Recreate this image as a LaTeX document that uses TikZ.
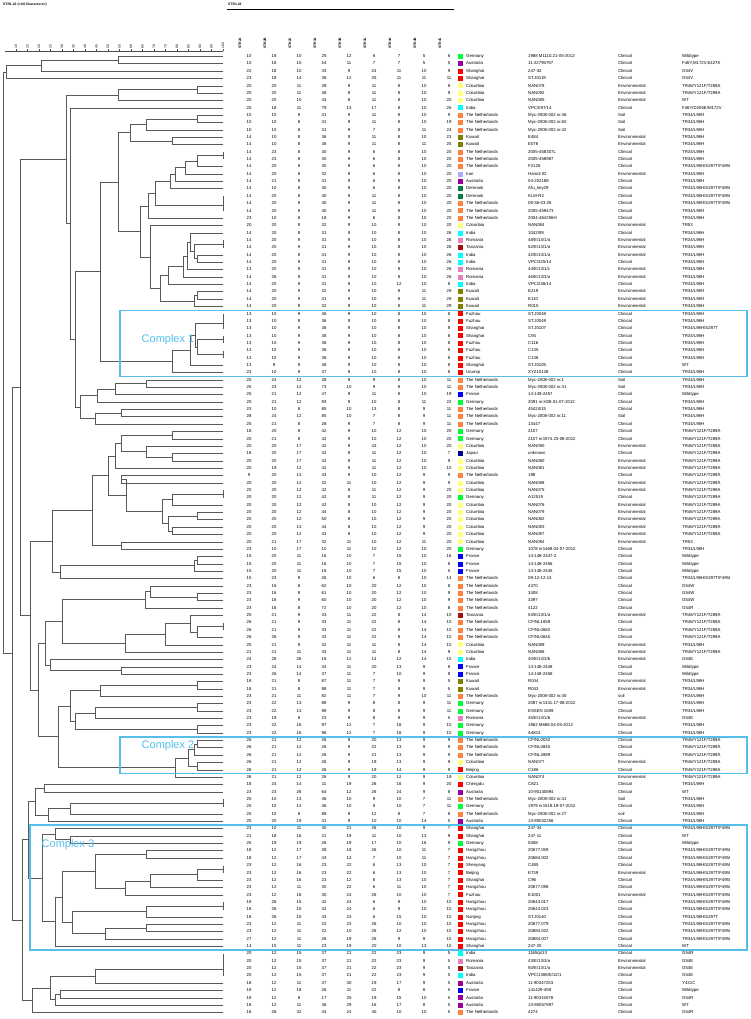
\documentclass[tikz,border=0pt]{standalone}
\usepackage{fontspec}
\setmainfont{Liberation Sans}
\usetikzlibrary{calc}
\definecolor{cGer}{HTML}{00FF33}
\definecolor{cAus}{HTML}{990099}
\definecolor{cChn}{HTML}{FF0000}
\definecolor{cCol}{HTML}{FFFF80}
\definecolor{cInd}{HTML}{00FFFF}
\definecolor{cNL}{HTML}{FF8040}
\definecolor{cKuw}{HTML}{808000}
\definecolor{cIra}{HTML}{AAAAFF}
\definecolor{cDen}{HTML}{008040}
\definecolor{cRom}{HTML}{E880C0}
\definecolor{cTan}{HTML}{A01010}
\definecolor{cFra}{HTML}{0000FF}
\definecolor{cJap}{HTML}{000090}
\definecolor{cBox}{HTML}{55BFEA}
\newcommand\Row[7]{%
  \pgfmathsetmacro\yy{56.5+(#1-1)*7.355}
  \coordinate (L#1) at (223,\yy);
  \foreach \v [count=\k] in {#2} {
    \pgfmathsetmacro\xx{249+(\k-1)*25}
    \node[val] (rv#1-\k) at (\xx,\yy) {\v};
  }
  \node[sq, fill=c#3] (rs#1) at (460.5,\yy) {};
  \node[txt] (rc#1) at (466,\yy) {#4};
  \node[txt] (ri#1) at (528,\yy) {#5};
  \node[txt] (rt#1) at (618,\yy) {#6};
  \node[txt] (rm#1) at (682,\yy) {#7};
}
\newcommand\Jn[4]{%
  \coordinate (jx) at (#4,0);
  \draw[dend] (#2) -- (#2 -| jx) -- (#3 -| jx) -- (#3);
  \coordinate (#1) at ($(#2 -| jx)!.5!(#3 -| jx)$);
}
\begin{document}
\begin{tikzpicture}[x=1pt,y=-1pt,
  val/.style={inner sep=0pt, anchor=center, text height=3.1pt, text depth=0.9pt, font=\fontsize{4.3}{5}\selectfont},
  txt/.style={inner sep=0pt, anchor=west, text height=3.1pt, text depth=0.9pt, font=\fontsize{4.3}{5}\selectfont},
  sq/.style={inner sep=0pt, minimum width=5pt, minimum height=5pt, draw=none},
  hdr/.style={inner sep=0pt, anchor=west, rotate=90, font=\fontsize{3.4}{4}\selectfont\bfseries},
  ttl/.style={inner sep=0pt, anchor=west, font=\fontsize{3.4}{4}\selectfont\bfseries},
  axlab/.style={inner sep=0pt, anchor=west, rotate=90, font=\fontsize{3.4}{4}\selectfont},
  dend/.style={draw=black!65, line width=0.8pt},
  cxbox/.style={draw=cBox, line width=1.3pt},
  cxlab/.style={inner sep=0pt, text=cBox, font=\fontsize{11}{13}\selectfont}]
\useasboundingbox (0,0) rectangle (751,1019);
\fill[white] (0,0) rectangle (751,1019);
% titles
\node[ttl] (title) at (3,4.5) {STR1.22 (<All Characters>)};
\node[ttl] (exp) at (228,4.5) {STR1.22};
\coordinate (barA) at (227,9.5);
\coordinate (barB) at (454,9.5);
\draw[line width=1.5pt] (barA) -- (barB);
% column headers
\foreach \h [count=\k] in {STR2A,STR2B,STR2C,STR3A,STR3B,STR3C,STR4A,STR4B,STR4C} {
  \pgfmathsetmacro\xx{249+(\k-1)*25-9}
  \node[hdr] (h\k) at (\xx,49) {\h};
}
% axis
\coordinate (axA) at (5,51.5);
\coordinate (axB) at (223,51.5);
\draw[black!70, line width=0.5pt] (axA) -- (axB);
\foreach \s in {10,15,...,100} {
  \pgfmathsetmacro\ax{223-(100-\s)*2.3}
  \draw[black!70, line width=0.4pt] (\ax,49.3) -- (\ax,51.5);
  \node[axlab] (ax\s) at (\ax,48.3) {\s};
}
% rows
\Row{1}{10,18,10,25,12,6,7,5,6}{Ger}{Germany}{1988 M1110.21-05-2012}{Clinical}{Wildtype}
\Row{2}{10,18,10,24,11,7,7,5,5}{Aus}{Australia}{11-22795797}{Clinical}{F46Y,M172V,E427K}
\Row{3}{22,18,10,33,9,24,11,10,9}{Chn}{Shanghai}{247-32}{Clinical}{G54V}
\Row{4}{23,18,14,36,12,25,11,11,11}{Chn}{Shanghai}{ST.J0119}{Clinical}{G54V}
\Row{5}{20,20,11,39,9,11,8,10,9}{Col}{Columbia}{NAN078}{Environmental}{TR46/Y121F/T289A}
\Row{6}{20,20,11,38,8,11,8,10,9}{Col}{Columbia}{NAN092}{Environmental}{TR46/Y121F/T289A}
\Row{7}{20,20,10,43,8,11,8,10,20}{Col}{Columbia}{NAN085}{Environmental}{WT}
\Row{8}{25,18,11,79,13,17,8,10,26}{Ind}{India}{VPC/097/14}{Clinical}{F46Y/D255E/M172V}
\Row{9}{10,10,8,31,9,11,8,10,9}{NL}{The Netherlands}{Myc-2008-002 nr.46}{Soil}{TR34/L98H}
\Row{10}{10,10,8,31,9,11,8,10,19}{NL}{The Netherlands}{Myc-2008-002 nr.60}{Soil}{TR34/L98H}
\Row{11}{10,10,8,31,9,7,8,11,24}{NL}{The Netherlands}{Myc-2008-002 nr.42}{Soil}{TR34/L98H}
\Row{12}{14,10,8,36,9,11,8,10,23}{Kuw}{Kuwait}{E484}{Environmental}{TR34/L98H}
\Row{13}{14,10,8,36,9,11,8,11,25}{Kuw}{Kuwait}{E076}{Environmental}{TR34/L98H}
\Row{14}{14,23,8,30,9,6,8,10,20}{NL}{The Netherlands}{2005-458307L}{Clinical}{TR34/L98H}
\Row{15}{14,23,8,30,9,6,8,10,20}{NL}{The Netherlands}{2005-458987}{Clinical}{TR34/L98H}
\Row{16}{14,20,8,30,9,6,8,10,20}{NL}{The Netherlands}{F2126}{Clinical}{TR34/L98H/S297T/F495I}
\Row{17}{14,20,8,32,9,6,8,10,20}{Ira}{Iran}{Hamol 02}{Environmental}{TR34/L98H}
\Row{18}{14,21,8,31,9,6,8,10,20}{Aus}{Australia}{04-202188}{Clinical}{TR34/L98H}
\Row{19}{14,10,8,30,9,6,8,10,20}{Den}{Denmark}{Afu\_key29}{Clinical}{TR34/L98H/S297T/F495I}
\Row{20}{14,20,8,40,9,11,8,10,20}{Den}{Denmark}{KLM-R2}{Clinical}{TR34/L98H/S297T/F495I}
\Row{21}{14,20,8,40,9,11,8,10,20}{NL}{The Netherlands}{08-36-03-25}{Clinical}{TR34/L98H/S297T/F495I}
\Row{22}{14,20,8,40,9,11,8,10,20}{NL}{The Netherlands}{2005-459473}{Clinical}{TR34/L98H}
\Row{23}{23,10,8,18,9,6,8,10,20}{NL}{The Netherlands}{2004-464256H}{Clinical}{TR34/L98H}
\Row{24}{20,20,8,32,9,10,8,10,20}{Col}{Columbia}{NAN084}{Environmental}{TR53}
\Row{25}{14,20,8,31,9,10,8,10,26}{Ind}{India}{1042/09}{Clinical}{TR34/L98H}
\Row{26}{14,20,9,31,9,10,8,10,26}{Rom}{Romania}{48/E/13/1/a}{Environmental}{TR34/L98H}
\Row{27}{14,20,9,31,9,10,8,10,26}{Tan}{Tanzania}{52/E/13/1/a}{Environmental}{TR34/L98H}
\Row{28}{14,20,8,31,9,10,8,10,26}{Ind}{India}{42/E/13/1/a}{Environmental}{TR34/L98H}
\Row{29}{14,20,9,31,9,10,8,10,26}{Ind}{India}{VPC/325/14}{Clinical}{TR34/L98H}
\Row{30}{13,20,9,31,9,10,8,10,26}{Rom}{Romania}{44/E/13/1/c}{Environmental}{TR34/L98H}
\Row{31}{14,26,9,31,9,10,8,10,26}{Rom}{Romania}{46/E/13/3/a}{Environmental}{TR34/L98H}
\Row{32}{14,20,9,31,9,10,12,10,8}{Ind}{India}{VPC/236/14}{Clinical}{TR34/L98H}
\Row{33}{14,20,9,32,9,10,8,11,29}{Kuw}{Kuwait}{E219}{Environmental}{TR34/L98H}
\Row{34}{14,20,9,31,9,10,8,11,29}{Kuw}{Kuwait}{E110}{Environmental}{TR34/L98H}
\Row{35}{14,20,9,32,9,10,8,11,29}{Kuw}{Kuwait}{R015}{Environmental}{TR34/L98H}
\Row{36}{13,10,9,36,9,10,8,10,8}{Chn}{Fuzhou}{ST.J0048}{Clinical}{TR34/L98H}
\Row{37}{13,10,9,36,9,10,8,10,8}{Chn}{Fuzhou}{ST.J0049}{Clinical}{TR34/L98H}
\Row{38}{13,10,9,36,9,10,8,10,8}{Chn}{Shanghai}{ST.J0107}{Clinical}{TR34/L98H/S297T}
\Row{39}{13,10,9,38,9,10,8,10,8}{Chn}{Shanghai}{C94}{Clinical}{TR34/L98H}
\Row{40}{13,10,9,38,9,10,8,10,8}{Chn}{Fuzhou}{C116}{Clinical}{TR34/L98H}
\Row{41}{13,10,9,36,9,10,8,10,8}{Chn}{Fuzhou}{C135}{Clinical}{TR34/L98H}
\Row{42}{13,10,9,36,9,10,8,10,8}{Chn}{Fuzhou}{C136}{Clinical}{TR34/L98H}
\Row{43}{13,9,9,38,9,10,8,10,8}{Chn}{Shanghai}{ST.J0105}{Clinical}{WT}
\Row{44}{23,10,9,37,9,10,8,10,8}{Chn}{Urumqi}{XYZ10138}{Clinical}{TR34/L98H}
\Row{45}{25,24,12,28,9,9,8,10,11}{NL}{The Netherlands}{Myc-2008-002 nr.1}{Soil}{TR34/L98H}
\Row{46}{25,23,12,73,10,9,8,10,11}{NL}{The Netherlands}{Myc-2008-002 nr.31}{Soil}{TR34/L98H}
\Row{47}{25,21,12,47,9,11,8,10,19}{Fra}{France}{14-149-2457}{Clinical}{Wildtype}
\Row{48}{20,21,12,93,9,10,8,11,22}{Ger}{Germany}{2091 nr.H28.01-07-2012}{Clinical}{TR34/L98H}
\Row{49}{23,10,8,85,10,13,8,9,11}{NL}{The Netherlands}{45424/15}{Clinical}{TR34/L98H}
\Row{50}{28,24,12,85,10,7,8,9,11}{NL}{The Netherlands}{Myc-2008-002 nr.11}{Soil}{TR34/L98H}
\Row{51}{25,21,8,28,9,7,8,9,11}{NL}{The Netherlands}{13447}{Clinical}{TR34/L98H}
\Row{52}{18,20,8,42,9,10,12,10,20}{Ger}{Germany}{2107}{Clinical}{TR46/Y121F/T289A}
\Row{53}{20,21,8,42,9,10,12,10,20}{Ger}{Germany}{2107 nr1974.23-08-2012}{Clinical}{TR46/Y121F/T289A}
\Row{54}{20,20,17,42,9,43,12,10,20}{Col}{Columbia}{NAN090}{Environmental}{TR46/Y121F/T289A}
\Row{55}{18,20,17,42,8,11,12,10,7}{Jap}{Japan}{unknown}{Clinical}{TR46/Y121F/T289A}
\Row{56}{20,20,17,42,8,11,12,10,9}{Col}{Columbia}{NAN080}{Environmental}{TR46/Y121F/T289A}
\Row{57}{20,19,12,42,9,11,12,10,10}{Col}{Columbia}{NAN081}{Environmental}{TR46/Y121F/T289A}
\Row{58}{9,20,13,43,9,10,12,9,9}{NL}{The Netherlands}{198}{Clinical}{TR46/Y121F/T289A}
\Row{59}{20,20,12,32,11,10,12,9,9}{Col}{Columbia}{NAN088}{Environmental}{TR46/Y121F/T289A}
\Row{60}{20,20,12,42,8,11,12,9,20}{Col}{Columbia}{NAN075}{Environmental}{TR46/Y121F/T289A}
\Row{61}{20,20,12,42,8,11,12,9,20}{Ger}{Germany}{A12519}{Clinical}{TR46/Y121F/T289A}
\Row{62}{20,20,12,42,9,10,12,9,20}{Col}{Columbia}{NAN076}{Environmental}{TR46/Y121F/T289A}
\Row{63}{20,20,12,44,8,10,12,9,20}{Col}{Columbia}{NAN079}{Environmental}{TR46/Y121F/T289A}
\Row{64}{20,20,12,50,8,10,12,9,20}{Col}{Columbia}{NAN082}{Environmental}{TR46/Y121F/T289A}
\Row{65}{20,20,13,44,8,10,12,9,20}{Col}{Columbia}{NAN083}{Environmental}{TR46/Y121F/T289A}
\Row{66}{20,20,12,43,8,10,12,9,20}{Col}{Columbia}{NAN087}{Environmental}{TR46/Y121F/T289A}
\Row{67}{20,21,17,32,11,10,12,11,20}{Col}{Columbia}{NAN094}{Environmental}{TR53}
\Row{68}{23,10,17,10,11,10,12,10,20}{Ger}{Germany}{1078 nr1469.04-07-2012}{Clinical}{TR34/L98H}
\Row{69}{15,20,11,16,10,7,15,10,16}{Fra}{France}{14-148-2447-2}{Clinical}{Wildtype}
\Row{70}{15,20,11,16,10,7,15,10,8}{Fra}{France}{14-148-2456}{Clinical}{Wildtype}
\Row{71}{15,20,11,16,10,7,15,10,5}{Fra}{France}{14-148-2445}{Clinical}{Wildtype}
\Row{72}{15,23,9,26,10,6,8,10,14}{NL}{The Netherlands}{09-12-12-13}{Clinical}{TR34/L98H/S297T/F495I}
\Row{73}{23,16,8,62,10,20,12,10,8}{NL}{The Netherlands}{4370}{Clinical}{G54W}
\Row{74}{23,16,9,61,10,20,12,10,9}{NL}{The Netherlands}{3408}{Clinical}{G54W}
\Row{75}{23,16,9,60,10,20,12,10,9}{NL}{The Netherlands}{3397}{Clinical}{G54W}
\Row{76}{23,16,8,72,10,20,12,10,8}{NL}{The Netherlands}{4122}{Clinical}{G54R}
\Row{77}{25,21,9,33,11,22,8,14,10}{Tan}{Tanzania}{53/E/13/1/a}{Environmental}{TR46/Y121F/T289A}
\Row{78}{26,21,9,33,11,22,8,14,10}{NL}{The Netherlands}{CF/NL1659}{Clinical}{TR46/Y121F/T289A}
\Row{79}{26,21,9,33,11,22,8,14,10}{NL}{The Netherlands}{CF/NL0682}{Clinical}{TR46/Y121F/T289A}
\Row{80}{26,26,9,33,11,22,8,14,10}{NL}{The Netherlands}{CF/NL0645}{Clinical}{TR46/Y121F/T289A}
\Row{81}{25,21,9,32,11,11,8,14,10}{Col}{Columbia}{NAN089}{Environmental}{TR34/L98H}
\Row{82}{21,21,11,33,11,11,8,14,9}{Col}{Columbia}{NAN086}{Environmental}{TR46/Y121F/T289A}
\Row{83}{24,28,26,16,12,14,12,14,10}{Ind}{India}{40/E/13/3/b}{Environmental}{G54E}
\Row{84}{23,24,14,34,11,20,13,9,8}{Fra}{France}{14-148-2448}{Clinical}{Wildtype}
\Row{85}{23,26,14,37,11,7,10,9,8}{Fra}{France}{14-148-2458}{Clinical}{Wildtype}
\Row{86}{18,21,8,87,11,7,9,9,5}{Kuw}{Kuwait}{R044}{Environmental}{TR34/L98H}
\Row{87}{18,21,8,88,11,7,9,9,5}{Kuw}{Kuwait}{R043}{Environmental}{TR34/L98H}
\Row{88}{23,21,11,82,11,7,9,10,11}{NL}{The Netherlands}{Myc-2008-002 nr.45}{soil}{TR34/L98H}
\Row{89}{23,22,13,88,9,8,8,9,11}{Ger}{Germany}{2087 nr1341.17-08-2012}{Clinical}{TR34/L98H}
\Row{90}{23,22,13,98,9,8,8,9,11}{Ger}{Germany}{ESSEN 1609}{Clinical}{TR34/L98H}
\Row{91}{23,19,8,23,9,8,9,9,5}{Rom}{Romania}{45/E/13/1/b}{Environmental}{G54E}
\Row{92}{23,22,16,97,12,7,16,9,10}{Ger}{Germany}{1962 M688.04-05-2012}{Clinical}{TR34/L98H}
\Row{93}{23,22,16,96,12,7,16,9,10}{Ger}{Germany}{A4813}{Clinical}{TR34/L98H}
\Row{94}{26,21,12,26,9,20,13,9,9}{NL}{The Netherlands}{CF/NL0032}{Clinical}{TR46/Y121F/T289A}
\Row{95}{26,21,12,26,9,22,13,9,9}{NL}{The Netherlands}{CF/NL0840}{Clinical}{TR46/Y121F/T289A}
\Row{96}{26,21,12,26,9,21,13,9,9}{NL}{The Netherlands}{CF/NL2889}{Clinical}{TR46/Y121F/T289A}
\Row{97}{26,21,12,26,9,19,13,9,9}{Col}{Columbia}{NAN077}{Environmental}{TR46/Y121F/T289A}
\Row{98}{26,21,12,26,9,19,14,9,9}{Chn}{Beijing}{C186}{Clinical}{TR46/Y121F/T289A}
\Row{99}{26,21,12,26,9,20,12,9,19}{Col}{Columbia}{NAN074}{Environmental}{TR46/Y121F/T289A}
\Row{100}{18,24,14,11,19,26,16,9,20}{Chn}{Chengdu}{C821}{Clinical}{TR34/L98H}
\Row{101}{23,23,26,64,12,26,24,9,8}{Aus}{Australia}{10-90130894}{Clinical}{WT}
\Row{102}{25,10,13,46,10,9,10,7,11}{NL}{The Netherlands}{Myc-2008-002 nr.41}{Soil}{TR34/L98H}
\Row{103}{25,10,13,46,10,9,10,7,11}{Ger}{Germany}{1979 nr1519.19-07-2012}{Clinical}{TR34/L98H}
\Row{104}{25,10,8,88,9,12,8,7,8}{NL}{The Netherlands}{Myc-2008-002 nr.27}{soil}{TR34/L98H}
\Row{105}{25,20,19,31,9,10,10,14,5}{Aus}{Australia}{13-90032256}{Clinical}{TR34/L98H}
\Row{106}{23,10,11,30,21,26,10,9,7}{Chn}{Shanghai}{247-34}{Clinical}{TR34/L98H/S297T/F495I}
\Row{107}{21,18,16,21,19,11,10,13,9}{Chn}{Shanghai}{247-11}{Clinical}{WT}
\Row{108}{25,19,19,26,19,17,10,16,9}{Ger}{Germany}{5308}{Clinical}{Wildtype}
\Row{109}{18,12,17,38,18,26,10,11,7}{Chn}{Hangzhou}{20677.059}{Clinical}{TR34/L98H/S297T/F495I}
\Row{110}{18,12,17,43,13,7,10,11,7}{Chn}{Hangzhou}{20684.002}{Clinical}{TR34/L98H/S297T/F495I}
\Row{111}{23,12,16,23,22,6,13,10,7}{Chn}{Shenyang}{C485}{Clinical}{TR34/L98H/S297T/F495I}
\Row{112}{23,12,16,23,22,6,13,10,7}{Chn}{Beijing}{E739}{Environmental}{TR34/L98H/S297T/F495I}
\Row{113}{23,12,16,23,12,6,13,10,7}{Chn}{Shanghai}{C96}{Clinical}{TR34/L98H/S297T/F495I}
\Row{114}{23,12,11,30,22,6,11,10,7}{Chn}{Hangzhou}{20677.098}{Clinical}{TR34/L98H/S297T/F495I}
\Row{115}{23,12,16,30,24,26,10,10,7}{Chn}{Fuzhou}{E1001}{Environmental}{TR34/L98H/S297T/F495I}
\Row{116}{18,26,15,42,24,6,9,10,10}{Chn}{Hangzhou}{20643.017}{Clinical}{TR34/L98H/S297T/F495I}
\Row{117}{18,26,15,42,24,6,9,10,10}{Chn}{Hangzhou}{20643.023}{Clinical}{TR34/L98H/S297T/F495I}
\Row{118}{18,26,15,43,23,6,15,10,10}{Chn}{Nanjing}{ST.J0140}{Clinical}{TR34/L98H/S297T}
\Row{119}{23,12,11,23,23,26,10,10,10}{Chn}{Hangzhou}{20677.079}{Clinical}{TR34/L98H/S297T/F495I}
\Row{120}{23,12,11,22,10,26,12,10,10}{Chn}{Hangzhou}{20684.022}{Clinical}{TR34/L98H/S297T/F495I}
\Row{121}{27,12,11,26,19,26,9,9,10}{Chn}{Hangzhou}{20684.007}{Clinical}{TR34/L98H/S297T/F495I}
\Row{122}{14,15,11,23,19,20,10,13,10}{Chn}{Shanghai}{247-20}{Clinical}{WT}
\Row{123}{20,12,15,37,21,22,23,9,5}{Ind}{India}{1165/p/13}{Clinical}{G54R}
\Row{124}{20,12,15,37,21,22,23,9,5}{Rom}{Romania}{43/E/13/3/a}{Environmental}{G54E}
\Row{125}{20,12,15,37,21,22,23,9,5}{Tan}{Tanzania}{50/E/13/1/a}{Environmental}{G54E}
\Row{126}{20,12,15,37,21,22,23,9,5}{Ind}{India}{VPC/1388/E/12/1}{Clinical}{G54E}
\Row{127}{18,12,11,37,30,19,17,9,5}{Aus}{Australia}{11-90347253}{Clinical}{Y431C}
\Row{128}{18,12,18,26,11,22,8,8,5}{Fra}{France}{141429-459}{Clinical}{Wildtype}
\Row{129}{18,12,8,17,25,19,15,10,5}{Aus}{Australia}{11-90315078}{Clinical}{G54R}
\Row{130}{18,12,11,36,29,16,17,8,5}{Aus}{Australia}{13-90057897}{Clinical}{WT}
\Row{131}{16,26,32,34,24,40,10,10,5}{NL}{The Netherlands}{4274}{Clinical}{G54R}
% dendrogram
\Jn{Ja1}{L1}{L2}{118}
\Jn{Ja2}{Ja1}{L3}{41}
\Jn{Ja3}{Ja2}{L4}{6}
\Jn{Jb1}{L5}{L6}{197}
\Jn{Jb2}{Jb1}{L7}{118}
\Jn{Jc1}{L9}{L10}{197}
\Jn{Jc2}{Jc1}{L11}{146}
\Jn{Jc3}{L12}{L13}{172}
\Jn{Jc4}{Jc2}{Jc3}{130}
\Jn{Jd1}{L14}{L15}{223}
\Jn{Jd2}{Jd1}{L16}{197}
\Jn{Jd3}{Jd2}{L17}{185}
\Jn{Jd4}{Jd3}{L18}{175}
\Jn{Jd5}{Jd4}{L19}{170}
\Jn{Jd6}{L20}{L21}{223}
\Jn{Jd7}{Jd6}{L22}{223}
\Jn{Jd8}{Jd5}{Jd7}{155}
\Jn{Jd9}{Jd8}{L23}{148}
\Jn{Je1}{L26}{L27}{223}
\Jn{Je2}{L28}{L29}{197}
\Jn{Je3}{Je1}{Je2}{194}
\Jn{Je4}{L25}{Je3}{190}
\Jn{Je5}{Je4}{L30}{187}
\Jn{Je6}{Je5}{L31}{183}
\Jn{Je7}{Je6}{L32}{168}
\Jn{Je8}{L33}{L34}{197}
\Jn{Je9}{Je8}{L35}{194}
\Jn{Je10}{Je7}{Je9}{160}
\Jn{Je11}{L24}{Je10}{150}
\Jn{Jf1}{Jd9}{Je11}{140}
\Jn{Jf2}{Jc4}{Jf1}{118}
\Jn{Jg1}{L36}{L37}{223}
\Jn{Jg2}{Jg1}{L38}{223}
\Jn{Jg3}{L39}{L40}{223}
\Jn{Jg4}{L41}{L42}{223}
\Jn{Jg5}{Jg3}{Jg4}{197}
\Jn{Jg6}{Jg2}{Jg5}{195}
\Jn{Jg7}{Jg6}{L43}{190}
\Jn{Jg8}{Jg7}{L44}{172}
\Jn{Jf3}{Jf2}{Jg8}{100}
\Jn{Jh1}{L45}{L46}{146}
\Jn{Jh2}{Jh1}{L47}{115}
\Jn{Jh3}{Jh2}{L48}{97}
\Jn{Jh4}{L49}{L50}{121}
\Jn{Jh5}{Jh4}{L51}{95}
\Jn{Jh6}{Jh3}{Jh5}{80}
\Jn{Jk1}{Jf3}{Jh6}{75}
\Jn{Jk2}{L8}{Jk1}{70}
\Jn{Jk3}{Jb2}{Jk2}{66}
\Jn{Jm1}{L52}{L53}{172}
\Jn{Jm2}{L55}{L56}{172}
\Jn{Jm3}{L54}{Jm2}{146}
\Jn{Jm4}{Jm1}{Jm3}{121}
\Jn{Jm5}{Jm4}{L57}{115}
\Jn{Jm6}{L58}{L59}{121}
\Jn{Jm7}{L60}{L61}{223}
\Jn{Jm8}{Jm7}{L62}{172}
\Jn{Jm9}{L63}{L64}{197}
\Jn{Jm10}{L65}{L66}{172}
\Jn{Jm11}{Jm9}{Jm10}{168}
\Jn{Jm12}{Jm8}{Jm11}{162}
\Jn{Jm13}{Jm6}{Jm12}{126}
\Jn{Jm14}{Jm5}{Jm13}{108}
\Jn{Jm15}{L67}{L68}{121}
\Jn{Jm16}{Jm14}{Jm15}{92}
\Jn{Jn1}{L69}{L70}{197}
\Jn{Jn2}{Jn1}{L71}{194}
\Jn{Jn3}{Jn2}{L72}{60}
\Jn{Jn4}{Jm16}{Jn3}{52}
\Jn{Jp1}{L74}{L75}{197}
\Jn{Jp2}{L73}{Jp1}{150}
\Jn{Jp3}{Jp2}{L76}{145}
\Jn{Jq1}{L78}{L79}{223}
\Jn{Jq2}{Jq1}{L80}{197}
\Jn{Jq3}{L77}{Jq2}{190}
\Jn{Jq4}{Jq3}{L81}{165}
\Jn{Jq5}{Jq4}{L82}{125}
\Jn{Jq6}{Jp3}{Jq5}{62}
\Jn{Jr1}{L84}{L85}{121}
\Jn{Jr2}{L83}{Jr1}{50}
\Jn{Jsa}{Jq6}{Jr2}{45}
\Jn{Jt1}{L86}{L87}{197}
\Jn{Jt2}{Jt1}{L88}{100}
\Jn{Jt3}{L89}{L90}{197}
\Jn{Jt4}{Jt3}{L91}{95}
\Jn{Jt5}{L92}{L93}{197}
\Jn{Jt6}{Jt4}{Jt5}{75}
\Jn{Jt7}{Jt2}{Jt6}{70}
\Jn{Ju1}{L94}{L95}{197}
\Jn{Ju2}{Ju1}{L96}{194}
\Jn{Ju3}{L97}{L98}{197}
\Jn{Ju4}{Ju2}{Ju3}{188}
\Jn{Ju5}{Ju4}{L99}{175}
\Jn{Ju6}{Jt7}{Ju5}{58}
\Jn{Jv1}{Jsa}{Ju6}{38}
\Jn{Jv2}{Jn4}{Jv1}{30}
\Jn{Jw1}{L100}{L101}{44}
\Jn{Jw2}{L102}{L103}{223}
\Jn{Jw3}{Jw2}{L104}{70}
\Jn{Jw4}{Jw3}{L105}{48}
\Jn{Jw5}{Jw1}{Jw4}{35}
\Jn{Jx1}{L107}{L108}{70}
\Jn{Jx2}{L106}{Jx1}{55}
\Jn{Jx3}{L109}{L110}{146}
\Jn{Jx4}{L111}{L112}{223}
\Jn{Jx5}{Jx4}{L113}{197}
\Jn{Jx6}{Jx5}{L114}{150}
\Jn{Jx7}{Jx6}{L115}{125}
\Jn{Jx8}{Jx3}{Jx7}{95}
\Jn{Jx9}{L116}{L117}{223}
\Jn{Jx10}{Jx9}{L118}{146}
\Jn{Jx11}{L119}{L120}{146}
\Jn{Jx12}{Jx11}{L121}{105}
\Jn{Jx13}{Jx10}{Jx12}{72}
\Jn{Jx14}{Jx8}{Jx13}{62}
\Jn{Jx15}{Jx14}{L122}{55}
\Jn{Jx16}{Jx2}{Jx15}{42}
\Jn{Jy1}{Jw5}{Jx16}{28}
\Jn{Jz1}{L123}{L124}{223}
\Jn{Jz2}{Jz1}{L125}{223}
\Jn{Jz3}{Jz2}{L126}{223}
\Jn{Jz4}{Jz3}{L127}{95}
\Jn{Jz5}{L128}{L129}{60}
\Jn{Jz6}{Jz5}{L130}{55}
\Jn{Jz7}{Jz4}{Jz6}{50}
\Jn{Jz8}{Jz7}{L131}{32}
\Jn{JT1}{Jk3}{Jv2}{20}
\Jn{JT2}{Jy1}{Jz8}{22}
\Jn{JT3}{JT1}{JT2}{12}
\Jn{Jroot}{Ja3}{JT3}{3}
% complexes
\draw[cxbox] (120,310.2) rectangle (747,376.5);
\node[cxlab] (cx1) at (168,340) {Complex 1};
\draw[cxbox] (120,736.9) rectangle (747,773.6);
\node[cxlab] (cx2) at (168,746) {Complex 2};
\draw[cxbox] (30,825) rectangle (747,950);
\node[cxlab] (cx3) at (68,845) {Complex 3};
\end{tikzpicture}
\end{document}
